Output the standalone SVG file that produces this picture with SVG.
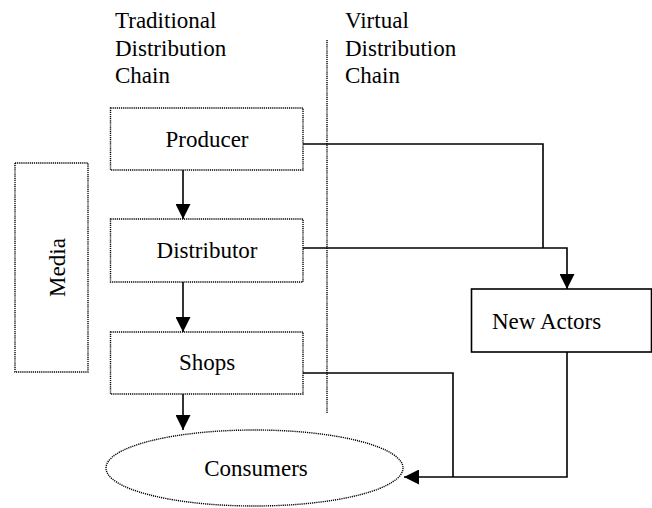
<svg xmlns="http://www.w3.org/2000/svg" width="652" height="508" viewBox="0 0 652 508">
<defs>
<marker id="arr" markerWidth="15" markerHeight="15" refX="15" refY="7.5" orient="auto" markerUnits="userSpaceOnUse">
<path d="M0,0 L15,7.5 L0,15 Z" fill="#000"/>
</marker>
</defs>
<style>
text{font-family:"Liberation Serif","Times New Roman",serif;font-size:23px;fill:#000}
.dot{fill:#fff;stroke:#000;stroke-width:1.4;stroke-dasharray:1.2 0.9}
.solid{fill:#fff;stroke:#000;stroke-width:1.6}
.c{fill:none;stroke:#000;stroke-width:1.6}
.mid{text-anchor:middle}
</style>
<rect width="652" height="508" fill="#fff"/>
<g id="headers">
<text x="115" y="28">Traditional</text>
<text x="115" y="55.5">Distribution</text>
<text x="115" y="83">Chain</text>
<text x="345" y="28">Virtual</text>
<text x="345" y="55.5">Distribution</text>
<text x="345" y="83">Chain</text>
</g>
<g id="divider">
<line x1="327" y1="40" x2="327" y2="413" fill="none" class="dot"/>
</g>
<g id="media">
<rect class="dot" x="15" y="163" width="73" height="209"/>
<text class="mid" transform="translate(65,267.5) rotate(-90)">Media</text>
</g>
<g id="producer">
<rect class="dot" x="110.5" y="108" width="192.5" height="62"/>
<text class="mid" x="207" y="147">Producer</text>
</g>
<g id="distributor">
<rect class="dot" x="110.5" y="219" width="192.5" height="63"/>
<text class="mid" x="207" y="258">Distributor</text>
</g>
<g id="shops">
<rect class="dot" x="110.5" y="332" width="192.5" height="62"/>
<text class="mid" x="207" y="370">Shops</text>
</g>
<g id="new-actors">
<rect class="solid" x="471.5" y="289" width="180" height="63"/>
<text x="492" y="329">New Actors</text>
</g>
<g id="consumers">
<ellipse class="dot" cx="254.5" cy="468" rx="148.5" ry="38"/>
<text class="mid" x="256" y="476">Consumers</text>
</g>
<g id="connectors">
<line class="c" x1="183" y1="170" x2="183" y2="219" marker-end="url(#arr)"/>
<line class="c" x1="183" y1="282" x2="183" y2="332" marker-end="url(#arr)"/>
<line class="c" x1="183" y1="394" x2="183" y2="430" marker-end="url(#arr)"/>
<polyline class="c" points="303,144 543,144 543,248"/>
<polyline class="c" points="303,248 567,248 567,289" marker-end="url(#arr)"/>
<polyline class="c" points="567,352 567,477 404,477" marker-end="url(#arr)"/>
<polyline class="c" points="303,373 453,373 453,477"/>
</g>
</svg>
